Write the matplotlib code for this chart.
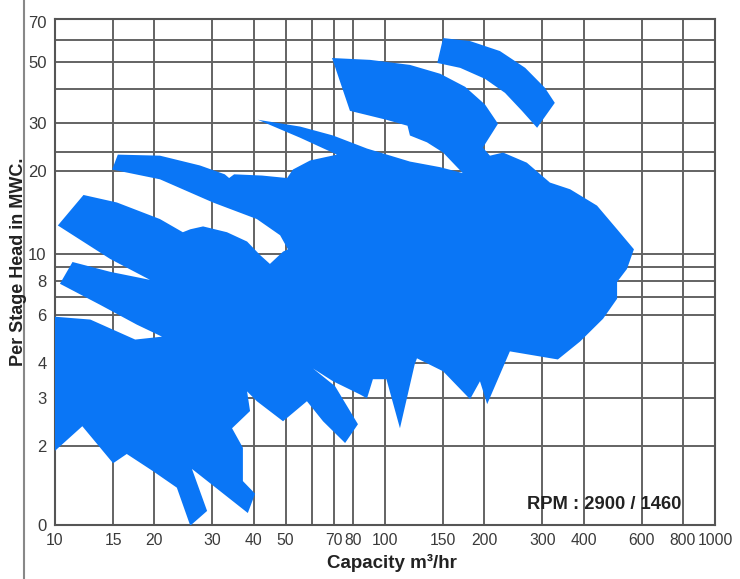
import matplotlib
matplotlib.use("Agg")
import matplotlib.pyplot as plt
from matplotlib.lines import Line2D

# ---------------- data ----------------
x_ticks = [10, 15, 20, 30, 40, 50, 70, 80, 100, 150, 200, 300, 400, 600, 800, 1000]
x_grid = [15, 20, 30, 40, 50, 60, 70, 80, 100, 150, 200, 300, 400, 600, 800]
y_ticks = [1.031, 2, 3, 4, 6, 8, 10, 20, 30, 50, 70]
y_ticklabels = ["0", "2", "3", "4", "6", "8", "10", "20", "30", "50", "70"]
y_grid = [2, 3, 4, 6, 7, 8, 9, 10, 20, 23.5, 30, 40, 50, 60]

# combined pump coverage (capacity m3/hr, head m)
blob_q = [15.5, 20.8, 27.5, 32.7, 33.7, 34.9, 42.4, 50.5, 52.6, 59.3, 71.5, 55.3, 41.2, 55.3, 69.6,
          88.2, 119, 147, 172, 150, 134, 119, 117, 101, 78.3, 69.1, 90.1, 119, 147, 175, 201, 220,
          198, 208, 228, 269, 316, 364, 439, 505, 568, 541, 505, 505, 458, 390, 334, 239, 204, 194,
          181, 150, 125, 123, 111, 101, 91.9, 88.2, 84.0, 69.6, 60.5, 70.6, 82.8, 75.7, 64.9, 58.0,
          49.1, 40.9, 38.2, 39.0, 34.4, 37.1, 37.1, 40.4, 38.4, 26.0, 28.9, 25.7, 23.4, 19.8, 16.5,
          15.0, 12.1, 10.0, 10.0, 12.8, 17.5, 21.1, 17.7, 13.7, 10.35, 11.3, 14.7, 19.4, 14.7, 10.2,
          12.2, 15.4, 20.8, 24.4, 25.7, 28.1, 33.2, 38.2, 41.8, 44.8, 49.1, 50.8, 48.1, 40.9, 30.1,
          20.8, 14.9]
blob_h = [23.0, 22.8, 21.0, 19.5, 18.9, 19.5, 19.3, 18.9, 20.3, 21.9, 23.0, 26.5, 30.8, 29.1, 27.0,
          24.2, 21.7, 20.7, 19.7, 23.4, 25.5, 27.0, 29.3, 30.8, 33.2, 51.7, 50.9, 48.8, 45.3, 40.6, 35.0, 29.8,
          24.4, 22.8, 23.4, 21.5, 18.2, 17.2, 15.0, 12.3, 10.4, 8.82, 7.91, 6.87, 5.81, 4.80, 4.13, 4.42, 2.84, 3.44,
          2.96, 3.74, 4.17, 3.96, 2.32, 3.50, 3.50, 2.98, 3.08, 3.44, 3.83, 3.30, 2.40, 2.05, 2.46, 2.91,
          2.46, 2.91, 3.16, 2.68, 2.32, 1.97, 1.49, 1.34, 1.14, 1.65, 1.16, 1.025, 1.41, 1.62, 1.87,
          1.73, 2.36, 1.92, 5.91, 5.77, 4.88, 5.00, 5.53, 6.53, 7.79, 9.35, 8.61, 8.05, 9.59, 12.7,
          16.4, 15.4, 13.4, 12.0, 12.3, 12.6, 12.0, 11.1, 9.92, 9.20, 10.2, 10.4, 11.7, 13.4, 15.4,
          18.7, 20.3]

# separate high-head band
arc_q = [150, 181, 223, 266, 305, 327, 289, 260, 231, 201, 169, 144]
arc_h = [61.1, 59.6, 54.8, 47.6, 40.3, 35.5, 28.8, 33.2, 38.6, 43.4, 47.6, 49.6]

BLUE = "#0a76f6"
GRID = "#636363"

plt.rcParams["font.family"] = ["Liberation Sans", "DejaVu Sans"]

fig = plt.figure(figsize=(7.4, 5.79), dpi=100)
ax = fig.add_axes([55 / 740, 1 - 525 / 579, 660 / 740, 506 / 579])
ax.set_xscale("log")
ax.set_yscale("log")
ax.set_xlim(10, 1000)
ax.set_ylim(1.031, 71.7)

for q in x_grid:
    ax.axvline(q, color=GRID, lw=1.4, zorder=1)
for h in y_grid:
    ax.axhline(h, color=GRID, lw=1.4, zorder=1)

ax.fill(blob_q, blob_h, color=BLUE, lw=0, zorder=3)
ax.fill(arc_q, arc_h, color=BLUE, lw=0, zorder=3)

ax.minorticks_off()
ax.set_xticks(x_ticks)
ax.set_xticklabels([str(v) for v in x_ticks])
ax.set_yticks(y_ticks)
ax.set_yticklabels(y_ticklabels)
ax.tick_params(axis="both", length=0, labelcolor="#3a3a3a")
ax.tick_params(axis="x", pad=6, labelsize=11.3)
ax.tick_params(axis="y", pad=6, labelsize=12)
for s in ax.spines.values():
    s.set_color("#555555")
    s.set_linewidth(1.5)

fig.text(392 / 740, 1 - 563 / 579, "Capacity m\u00b3/hr", ha="center", va="center",
         fontsize=13.5, fontweight="bold", color="#222222")
fig.text(19 / 740, 1 - 262 / 579, "Per Stage Head in MWC.", rotation=90, ha="center", va="center",
         fontsize=13, fontweight="bold", color="#222222")
ax.text(0.715, 0.04, "RPM : 2900 / 1460", transform=ax.transAxes, ha="left", va="center",
        fontsize=13.2, fontweight="bold", color="#222222", zorder=5)

fig.add_artist(Line2D([24 / 740, 24 / 740], [0, 1], transform=fig.transFigure, color="#888888", lw=1.5))

fig.savefig("out.png", dpi=100)
